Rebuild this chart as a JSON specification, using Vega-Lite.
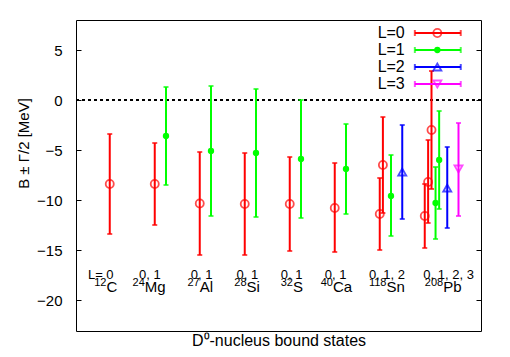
{
  "$schema": "https://vega.github.io/schema/vega-lite/v6.json",
  "width": 405,
  "height": 311,
  "autosize": "none",
  "padding": {"left": 76, "top": 20, "right": 29, "bottom": 26},
  "config": {
    "view": {"stroke": "black", "strokeWidth": 1},
    "font": "Liberation Sans",
    "axis": {"grid": false, "domain": false, "labelFont": "Liberation Sans", "titleFont": "Liberation Sans", "labelColor": "black", "titleColor": "black", "tickColor": "black", "titleFontWeight": "normal"}
  },
  "datasets": {
    "pts": [
      {"nucleus": "12C", "L": "L=0", "x": 1.0, "y": -8.4, "lo": -13.4, "hi": -3.4},
      {"nucleus": "24Mg", "L": "L=0", "x": 2.0, "y": -8.4, "lo": -12.5, "hi": -4.3},
      {"nucleus": "24Mg", "L": "L=1", "x": 2.25, "y": -3.6, "lo": -8.5, "hi": 1.3},
      {"nucleus": "27Al", "L": "L=0", "x": 3.0, "y": -10.35, "lo": -15.5, "hi": -5.2},
      {"nucleus": "27Al", "L": "L=1", "x": 3.25, "y": -5.1, "lo": -11.6, "hi": 1.4},
      {"nucleus": "28Si", "L": "L=0", "x": 4.0, "y": -10.4, "lo": -15.5, "hi": -5.3},
      {"nucleus": "28Si", "L": "L=1", "x": 4.25, "y": -5.3, "lo": -11.7, "hi": 1.1},
      {"nucleus": "32S", "L": "L=0", "x": 5.0, "y": -10.4, "lo": -15.1, "hi": -5.7},
      {"nucleus": "32S", "L": "L=1", "x": 5.25, "y": -5.9, "lo": -11.8, "hi": 0.0},
      {"nucleus": "40Ca", "L": "L=0", "x": 6.0, "y": -10.8, "lo": -15.2, "hi": -6.3},
      {"nucleus": "40Ca", "L": "L=1", "x": 6.25, "y": -6.9, "lo": -11.4, "hi": -2.4},
      {"nucleus": "118Sn", "L": "L=0", "x": 7.0, "y": -11.4, "lo": -15.0, "hi": -7.8},
      {"nucleus": "118Sn", "L": "L=0", "x": 7.07, "y": -6.5, "lo": -11.3, "hi": -1.7},
      {"nucleus": "118Sn", "L": "L=1", "x": 7.25, "y": -9.6, "lo": -13.6, "hi": -5.5},
      {"nucleus": "118Sn", "L": "L=2", "x": 7.5, "y": -7.2, "lo": -11.9, "hi": -2.5},
      {"nucleus": "208Pb", "L": "L=0", "x": 8.0, "y": -11.6, "lo": -14.8, "hi": -8.4},
      {"nucleus": "208Pb", "L": "L=0", "x": 8.075, "y": -8.2, "lo": -12.3, "hi": -4.0},
      {"nucleus": "208Pb", "L": "L=0", "x": 8.15, "y": -3.0, "lo": -8.9, "hi": 2.9},
      {"nucleus": "208Pb", "L": "L=1", "x": 8.24, "y": -10.3, "lo": -13.9, "hi": -6.7},
      {"nucleus": "208Pb", "L": "L=1", "x": 8.32, "y": -6.0, "lo": -10.9, "hi": -1.1},
      {"nucleus": "208Pb", "L": "L=2", "x": 8.5, "y": -8.8, "lo": -12.8, "hi": -4.7},
      {"nucleus": "208Pb", "L": "L=3", "x": 8.75, "y": -6.9, "lo": -11.6, "hi": -2.3}
    ],
    "labels": [
      {"mass": "12", "elem": "C", "xn": 0.927, "states": "L=  0", "xs": 0.8},
      {"mass": "24", "elem": "Mg", "xn": 1.778, "states": "0, 1", "xs": 1.89},
      {"mass": "27", "elem": "Al", "xn": 3.0, "states": "0, 1", "xs": 3.04},
      {"mass": "28", "elem": "Si", "xn": 4.04, "states": "0, 1", "xs": 4.06},
      {"mass": "32", "elem": "S", "xn": 5.07, "states": "0, 1", "xs": 5.04},
      {"mass": "40", "elem": "Ca", "xn": 5.96, "states": "0, 1", "xs": 6.02},
      {"mass": "118", "elem": "Sn", "xn": 7.15, "states": "0, 1, 2", "xs": 7.16},
      {"mass": "208", "elem": "Pb", "xn": 8.41, "states": "0, 1, 2, 3", "xs": 8.53}
    ],
    "leg": [
      {"L": "L=0", "ly": 6.7},
      {"L": "L=1", "ly": 5.0},
      {"L": "L=2", "ly": 3.3},
      {"L": "L=3", "ly": 1.6}
    ]
  },
  "resolve": {"axis": {"y": "independent", "x": "independent"}},
  "layer": [
    {
      "data": {"name": "pts"},
      "mark": {"type": "rule", "strokeDash": [3, 3], "color": "black", "strokeWidth": 0.8},
      "encoding": {
        "y": {"datum": 0, "type": "quantitative", "scale": {"domain": [-23.1, 8], "nice": false, "zero": false},
              "axis": {"title": "B ± Γ/2  [MeV]", "values": [-20, -15, -10, -5, 0, 5], "ticks": false, "labelPadding": 14, "grid": true, "gridColor": "black", "gridOpacity": 1, "gridWidth": 1, "gridDash": [5, 395, 5, 20], "zindex": 1, "labelFontSize": 15, "titleFontSize": 15, "titleX": -53, "titleY": 123, "titleAlign": "center", "titleBaseline": "middle"}}
      }
    },
    {
      "data": {"name": "pts"},
      "mark": {"type": "rule", "strokeWidth": 2},
      "encoding": {
        "x": {"field": "x", "type": "quantitative", "scale": {"domain": [0.25, 9.25], "nice": false, "zero": false},
              "axis": {"title": "D⁰-nucleus bound states", "labels": false, "ticks": false, "titleFontSize": 16, "titlePadding": 1}},
        "y": {"field": "lo", "type": "quantitative", "axis": null},
        "y2": {"field": "hi"},
        "color": {"field": "L", "type": "nominal", "scale": {"domain": ["L=0", "L=1", "L=2", "L=3"], "range": ["#ff0000", "#00ff00", "#0000ff", "#ff00ff"]}, "legend": null}
      }
    },
    {
      "data": {"name": "pts"},
      "mark": {"type": "tick", "orient": "horizontal", "size": 5, "thickness": 2},
      "encoding": {
        "x": {"field": "x", "type": "quantitative", "axis": null},
        "y": {"field": "lo", "type": "quantitative", "axis": null},
        "color": {"field": "L", "type": "nominal", "legend": null}
      }
    },
    {
      "data": {"name": "pts"},
      "mark": {"type": "tick", "orient": "horizontal", "size": 5, "thickness": 2},
      "encoding": {
        "x": {"field": "x", "type": "quantitative", "axis": null},
        "y": {"field": "hi", "type": "quantitative", "axis": null},
        "color": {"field": "L", "type": "nominal", "legend": null}
      }
    },
    {
      "data": {"name": "pts"},
      "transform": [{"filter": "datum.L !== 'L=1'"}],
      "mark": {"type": "point", "filled": false, "strokeWidth": 1.8, "size": 65},
      "encoding": {
        "x": {"field": "x", "type": "quantitative", "axis": null},
        "y": {"field": "y", "type": "quantitative", "axis": null},
        "color": {"field": "L", "type": "nominal", "legend": null},
        "shape": {"field": "L", "type": "nominal", "scale": {"domain": ["L=0", "L=1", "L=2", "L=3"], "range": ["circle", "circle", "triangle-up", "triangle-down"]}, "legend": null}
      }
    },
    {
      "data": {"name": "pts"},
      "transform": [{"filter": "datum.L === 'L=1'"}],
      "mark": {"type": "circle", "size": 40, "opacity": 1},
      "encoding": {
        "x": {"field": "x", "type": "quantitative", "axis": null},
        "y": {"field": "y", "type": "quantitative", "axis": null},
        "color": {"field": "L", "type": "nominal", "legend": null}
      }
    },
    {
      "data": {"name": "labels"},
      "mark": {"type": "text", "fontSize": 13, "align": "center", "baseline": "alphabetic", "font": "Liberation Sans", "color": "black"},
      "encoding": {
        "x": {"field": "xs", "type": "quantitative", "axis": null},
        "y": {"datum": -17.9, "type": "quantitative", "axis": null},
        "text": {"field": "states"}
      }
    },
    {
      "data": {"name": "labels"},
      "mark": {"type": "text", "fontSize": 11, "align": "right", "baseline": "alphabetic", "dy": -6.5, "font": "Liberation Sans", "color": "black"},
      "encoding": {
        "x": {"field": "xn", "type": "quantitative", "axis": null},
        "y": {"datum": -19.2, "type": "quantitative", "axis": null},
        "text": {"field": "mass"}
      }
    },
    {
      "data": {"name": "labels"},
      "mark": {"type": "text", "fontSize": 15, "align": "left", "baseline": "alphabetic", "font": "Liberation Sans", "color": "black"},
      "encoding": {
        "x": {"field": "xn", "type": "quantitative", "axis": null},
        "y": {"datum": -19.2, "type": "quantitative", "axis": null},
        "text": {"field": "elem"}
      }
    },
    {
      "data": {"name": "leg"},
      "mark": {"type": "rule", "strokeWidth": 2},
      "encoding": {
        "x": {"datum": 7.78, "type": "quantitative", "axis": null},
        "x2": {"datum": 8.8},
        "y": {"field": "ly", "type": "quantitative", "axis": null},
        "color": {"field": "L", "type": "nominal", "legend": null}
      }
    },
    {
      "data": {"name": "leg"},
      "mark": {"type": "tick", "orient": "vertical", "size": 6, "thickness": 2},
      "encoding": {
        "x": {"datum": 7.78, "type": "quantitative", "axis": null},
        "y": {"field": "ly", "type": "quantitative", "axis": null},
        "color": {"field": "L", "type": "nominal", "legend": null}
      }
    },
    {
      "data": {"name": "leg"},
      "mark": {"type": "tick", "orient": "vertical", "size": 6, "thickness": 2},
      "encoding": {
        "x": {"datum": 8.8, "type": "quantitative", "axis": null},
        "y": {"field": "ly", "type": "quantitative", "axis": null},
        "color": {"field": "L", "type": "nominal", "legend": null}
      }
    },
    {
      "data": {"name": "leg"},
      "transform": [{"filter": "datum.L !== 'L=1'"}],
      "mark": {"type": "point", "filled": false, "strokeWidth": 1.8, "size": 65},
      "encoding": {
        "x": {"datum": 8.28, "type": "quantitative", "axis": null},
        "y": {"field": "ly", "type": "quantitative", "axis": null},
        "color": {"field": "L", "type": "nominal", "legend": null},
        "shape": {"field": "L", "type": "nominal", "legend": null}
      }
    },
    {
      "data": {"name": "leg"},
      "transform": [{"filter": "datum.L === 'L=1'"}],
      "mark": {"type": "circle", "size": 40, "opacity": 1},
      "encoding": {
        "x": {"datum": 8.28, "type": "quantitative", "axis": null},
        "y": {"field": "ly", "type": "quantitative", "axis": null},
        "color": {"field": "L", "type": "nominal", "legend": null}
      }
    },
    {
      "data": {"name": "leg"},
      "mark": {"type": "text", "fontSize": 16, "align": "right", "baseline": "middle", "font": "Liberation Sans", "color": "black"},
      "encoding": {
        "x": {"datum": 7.556, "type": "quantitative", "axis": null},
        "y": {"field": "ly", "type": "quantitative", "axis": null},
        "text": {"field": "L"}
      }
    }
  ]
}
